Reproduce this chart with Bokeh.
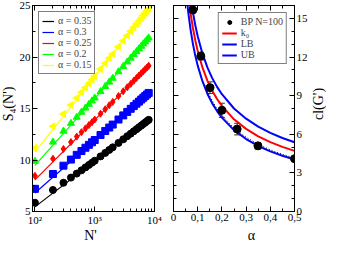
import numpy as np
from bokeh.plotting import figure
from bokeh.layouts import row, column
from bokeh.models import (ColumnDataSource, FixedTicker, CustomJSTickFormatter, LinearAxis, LogAxis,
                          Range1d, Legend, LegendItem, Whisker, TeeHead)
from bokeh.core.properties import value
from bokeh.embed import file_html
from bokeh.resources import INLINE

FONT = "Liberation Serif"

# ---------------- left panel data ----------------
n_prime = [100, 200, 300, 400, 500, 600, 700, 800, 900, 1000, 1250, 1500, 1750, 2000,
           2500, 3000, 3500, 4000, 4500, 5000, 5500, 6000, 6500, 7000, 7500, 8000]
s4_035 = [5.85, 7.09, 7.79, 8.29, 8.68, 9.00, 9.28, 9.52, 9.74, 9.93, 10.35, 10.69, 10.98, 11.23,
          11.66, 12.01, 12.31, 12.56, 12.79, 12.99, 13.18, 13.34, 13.50, 13.64, 13.78, 13.90]
s4_030 = [7.20, 8.64, 9.45, 10.04, 10.50, 10.87, 11.19, 11.47, 11.72, 11.94, 12.43, 12.82, 13.15, 13.44,
          13.93, 14.33, 14.67, 14.97, 15.23, 15.47, 15.67, 15.87, 16.05, 16.21, 16.36, 16.51]
s4_025 = [8.47, 10.12, 11.07, 11.74, 12.27, 12.70, 13.07, 13.39, 13.67, 13.93, 14.49, 14.93, 15.31, 15.64,
          16.21, 16.67, 17.06, 17.39, 17.69, 17.96, 18.20, 18.42, 18.62, 18.81, 18.98, 19.15]
s4_020 = [9.88, 11.74, 12.80, 13.56, 14.15, 14.64, 15.05, 15.41, 15.73, 16.02, 16.64, 17.14, 17.57, 17.94,
          18.57, 19.08, 19.52, 19.89, 20.23, 20.52, 20.79, 21.04, 21.27, 21.47, 21.67, 21.85]
s4_015 = [11.16, 13.27, 14.47, 15.34, 16.01, 16.56, 17.03, 17.43, 17.80, 18.13, 18.83, 19.39, 19.88, 20.29,
          21.00, 21.58, 22.07, 22.50, 22.87, 23.21, 23.51, 23.78, 24.04, 24.28, 24.49, 24.70]
fit_n = [100, 8000]
fit_035 = [5.45, 13.90]
fit_030 = [6.80, 16.51]
fit_025 = [8.07, 19.15]
fit_020 = [9.48, 21.85]
fit_015 = [10.76, 24.70]
left_labels = ["α = 0.35", "α = 0.3", "α = 0.25", "α = 0.2", "α = 0.15"]
left_colors = ["black", "#0000ff", "#ff0000", "#00ff00", "#ffff00"]
left_markers = ["circle", "square", "diamond", "triangle", "triangle"]
left_angles = [0, 0, 0, 0, np.pi / 2]
x_major_ticks = [100, 1000, 10000]
x_minor_ticks = [200, 300, 400, 500, 600, 700, 800, 900,
                 2000, 3000, 4000, 5000, 6000, 7000, 8000, 9000]
y1_major_ticks = [5, 10, 15, 20, 25]
y1_minor_ticks = [7.5, 12.5, 17.5, 22.5]

# ---------------- right panel data ----------------
bp_alpha = [0.08, 0.113, 0.151, 0.2, 0.263, 0.349, 0.5]
bp_cl = [15.65, 12.07, 9.62, 7.86, 6.40, 5.10, 4.10]
bp_err = [0.15, 0.3, 0.45, 0.55, 0.45, 0.25, 0.15]
curve_alpha = [0.055, 0.06, 0.07, 0.08, 0.09, 0.1, 0.12, 0.14, 0.16, 0.18, 0.2,
               0.25, 0.3, 0.35, 0.4, 0.45, 0.5]
k0_cl = [17.9, 16.98, 15.47, 14.27, 13.29, 12.47, 11.17, 10.17, 9.38, 8.74, 8.20,
         7.16, 6.42, 5.84, 5.39, 5.02, 4.71]
lb_cl = [16.51, 15.63, 14.19, 13.04, 12.11, 11.33, 10.10, 9.15, 8.40, 7.80, 7.29,
         6.32, 5.63, 5.09, 4.67, 4.33, 4.04]
ub_cl = [19.29, 18.33, 16.75, 15.50, 14.47, 13.61, 12.24, 11.19, 10.36, 9.68, 9.11,
         8.00, 7.21, 6.59, 6.11, 5.71, 5.38]
dot_alpha = [0.13, 0.14, 0.16, 0.18, 0.2, 0.25, 0.3, 0.35, 0.4, 0.45, 0.5]
dot_cl = [9.80, 9.35, 8.60, 7.98, 7.47, 6.48, 5.77, 5.22, 4.79, 4.44, 4.14]
x2_major_ticks = [0, 0.1, 0.2, 0.3, 0.4, 0.5]
x2_minor_ticks = [0.05, 0.15, 0.25, 0.35, 0.45]
y2_major_ticks = [0, 3, 6, 9, 12, 15]
y2_minor_ticks = [1, 2, 4, 5, 7, 8, 10, 11, 13, 14]

# axis titles
left_ylabel = "S\u2084(N')"
left_xlabel = "N'"
right_xlabel = "\u03b1"
right_ylabel = "cl(G')"

empty_fmt = CustomJSTickFormatter(code="return '';")

TOP_H = 228      # height of the row with the two panels
BOT_H = 14       # height of the row with the x-axis titles
MB_TOP, MB_BOT = 5, 15
FRAME_MID = TOP_H - (MB_TOP + (TOP_H - MB_TOP - MB_BOT) / 2)  # y of frame centre, from bottom


def style_axis(ax, labels=True):
    ax.major_tick_in = 5
    ax.major_tick_out = 0
    ax.minor_tick_in = 3
    ax.minor_tick_out = 0
    ax.axis_line_color = "black"
    ax.major_tick_line_color = "black"
    ax.minor_tick_line_color = "black"
    ax.major_label_text_font = FONT
    ax.major_label_text_font_size = "11px"
    ax.major_label_text_color = "black"
    ax.major_label_standoff = 2 if labels else 0
    if not labels:
        ax.formatter = empty_fmt


def text_fig(w, h, texts, xs, ys, angle=0.0):
    f = figure(width=w, height=h, x_range=Range1d(0, w), y_range=Range1d(0, h),
               output_backend="svg", toolbar_location=None, min_border=0,
               x_axis_location=None, y_axis_location=None, title=None)
    f.grid.visible = False
    f.outline_line_color = None
    f.border_fill_color = "white"
    f.text(x=xs, y=ys, text=texts, angle=angle, text_font=value(FONT),
           text_font_size=value("14px"), text_color="black",
           text_align="center", text_baseline="middle")
    return f


# ---------------- left figure ----------------
p1 = figure(width=148, height=TOP_H, x_axis_type="log", x_range=Range1d(91, 10000), y_range=Range1d(5, 25),
            output_backend="svg", toolbar_location=None, min_border_left=15, min_border_right=10,
            min_border_top=MB_TOP, min_border_bottom=MB_BOT, title=None)
p1.grid.grid_line_color = None
p1.outline_line_color = "black"
p1.background_fill_color = "white"
p1.border_fill_color = "white"

xt1 = FixedTicker(ticks=x_major_ticks, minor_ticks=x_minor_ticks)
yt1 = FixedTicker(ticks=y1_major_ticks, minor_ticks=y1_minor_ticks)
p1.xaxis.ticker = xt1
p1.yaxis.ticker = yt1
p1.xaxis.formatter = CustomJSTickFormatter(code="""
const e = Math.round(Math.log10(tick));
const sup = ['\u2070','\u00b9','\u00b2','\u00b3','\u2074','\u2075'];
return '10' + sup[e];
""")
for ax in p1.xaxis + p1.yaxis:
    style_axis(ax)
top1 = LogAxis(ticker=xt1)
right1 = LinearAxis(ticker=yt1)
style_axis(top1, labels=False)
style_axis(right1, labels=False)
p1.add_layout(top1, "above")
p1.add_layout(right1, "right")

series = [s4_035, s4_030, s4_025, s4_020, s4_015]
fits = [fit_035, fit_030, fit_025, fit_020, fit_015]
items = []
for s, f, lab, col, mk, ang in zip(series, fits, left_labels, left_colors, left_markers, left_angles):
    ln = p1.line(fit_n, f, line_color=col, line_width=1.2)
    p1.scatter(n_prime, s, marker=mk, angle=ang, size=7, fill_color=col, line_color=col)
    items.append(LegendItem(label=lab, renderers=[ln]))

leg1 = Legend(items=items, location="top_left", margin=6, padding=3, spacing=0,
              label_text_font=FONT, label_text_font_size="10px", label_height=10,
              glyph_width=12, glyph_height=10, label_standoff=4,
              border_line_color="black", border_line_width=1, background_fill_alpha=1)
p1.add_layout(leg1)

# ---------------- right figure ----------------
p2 = figure(width=146, height=TOP_H, x_range=Range1d(0, 0.5), y_range=Range1d(0, 16),
            y_axis_location="right", output_backend="svg", toolbar_location=None,
            min_border_left=9, min_border_right=13, min_border_top=MB_TOP, min_border_bottom=MB_BOT,
            title=None)
p2.grid.grid_line_color = None
p2.outline_line_color = "black"
p2.background_fill_color = "white"
p2.border_fill_color = "white"
xt2 = FixedTicker(ticks=x2_major_ticks, minor_ticks=x2_minor_ticks)
yt2 = FixedTicker(ticks=y2_major_ticks, minor_ticks=y2_minor_ticks)
p2.xaxis.ticker = xt2
p2.yaxis.ticker = yt2
p2.xaxis.formatter = CustomJSTickFormatter(code="""
return tick == 0 ? '0' : tick.toFixed(1).replace('.', ',');
""")
p2.yaxis.formatter = CustomJSTickFormatter(code="return tick.toFixed(0);")
for ax in p2.xaxis + p2.yaxis:
    style_axis(ax)
top2 = LinearAxis(ticker=xt2)
left2 = LinearAxis(ticker=yt2)
style_axis(top2, labels=False)
style_axis(left2, labels=False)
p2.add_layout(top2, "above")
p2.add_layout(left2, "left")

r_ub = p2.line(curve_alpha, ub_cl, line_color="#0000ff", line_width=2)
r_k0 = p2.line(curve_alpha, k0_cl, line_color="#ff0000", line_width=2)
r_lb = p2.line(curve_alpha, lb_cl, line_color="#0000ff", line_width=2)
p2.line(dot_alpha, dot_cl, line_color="black", line_width=1, line_dash="1 2")

bp_src = ColumnDataSource(dict(a=bp_alpha, c=bp_cl,
                               up=[c + e for c, e in zip(bp_cl, bp_err)],
                               lo=[c - e for c, e in zip(bp_cl, bp_err)]))
wh = Whisker(base="a", upper="up", lower="lo", source=bp_src, dimension="height",
             line_color="#333333", line_width=1,
             upper_head=TeeHead(size=6, line_color="#333333"),
             lower_head=TeeHead(size=6, line_color="#333333"))
p2.add_layout(wh)
r_bp = p2.scatter("a", "c", source=bp_src, marker="circle", size=8, fill_color="black", line_color="black")

leg2 = Legend(items=[LegendItem(label="BP N=100", renderers=[r_bp]),
                     LegendItem(label="k\u2080", renderers=[r_k0]),
                     LegendItem(label="LB", renderers=[r_lb]),
                     LegendItem(label="UB", renderers=[r_ub])],
              location="top_right", margin=7, padding=3, spacing=0,
              label_text_font=FONT, label_text_font_size="10px", label_height=10,
              glyph_width=15, glyph_height=10, label_standoff=4,
              border_line_color="black", border_line_width=1, background_fill_alpha=1)
p2.add_layout(leg2)

# ---------------- axis titles ----------------
p0 = text_fig(16, TOP_H, [left_ylabel], [8], [FRAME_MID], angle=np.pi / 2)
p3 = text_fig(16, TOP_H, [right_ylabel], [8], [FRAME_MID], angle=np.pi / 2)
q = text_fig(326, BOT_H, [left_xlabel, right_xlabel], [90, 251], [BOT_H / 2, BOT_H / 2])

layout = column(row(p0, p1, p2, p3), q)
open("out.html", "w").write(file_html(layout, INLINE))
